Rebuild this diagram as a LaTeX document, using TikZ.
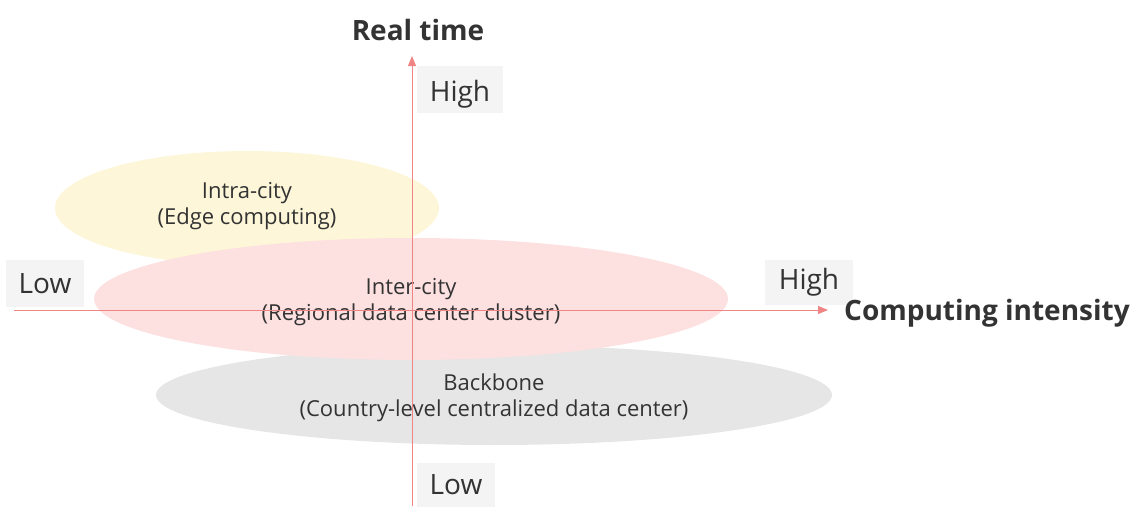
\documentclass[tikz,border=0pt]{standalone}
\usepackage{fontspec}
\setmainfont{Open Sans}
\usetikzlibrary{arrows.meta}
\definecolor{axisred}{HTML}{F08585}
\definecolor{txt}{HTML}{333333}
\definecolor{boxgray}{HTML}{F4F4F4}
\definecolor{yel}{HTML}{FDF6D8}
\definecolor{pnk}{HTML}{FDE0E0}
\definecolor{gry}{HTML}{E6E6E6}
\begin{document}
\begin{tikzpicture}[x=1pt,y=-1pt,
  axis/.style={draw=axisred,line width=1pt,-{Triangle[length=10pt,width=8pt]}},
  lvl/.style={fill=boxgray,text=txt,font=\fontsize{28}{32}\selectfont,inner sep=0pt},
  title/.style={text=txt,font=\fontsize{28}{32}\selectfont\bfseries,inner sep=0pt},
  zone/.style={text=txt,font=\fontsize{22}{26}\selectfont,align=center,inner sep=0pt}]
\useasboundingbox (0,0) rectangle (1137,506);
\fill[yel] (247,208) ellipse [x radius=192,y radius=57];
\fill[gry] (494,395) ellipse [x radius=338,y radius=50];
\fill[pnk] (411,299) ellipse [x radius=317,y radius=61];
\node[zone] (intra) at (247,206) {Intra-city\\(Edge computing)};
\node[zone] (inter) at (411,302) {Inter-city\\(Regional data center cluster)};
\node[zone] (back) at (494,398) {Backbone\\(Country-level centralized data center)};
\coordinate (vb) at (412,506);
\coordinate (vt) at (412,56);
\coordinate (hl) at (14,310);
\coordinate (hr) at (828,310);
\draw[axis] (vb) -- (vt);
\draw[axis] (hl) -- (hr);
\node[lvl,minimum width=86pt,minimum height=47pt,text depth=0pt] (vh) at (460,89.5) {\raisebox{-3pt}{High}};
\node[lvl,minimum width=78pt,minimum height=44pt] (vl) at (456,485) {\raisebox{-3pt}{Low}};
\node[lvl,minimum width=78pt,minimum height=47pt] (hlo) at (45,283.5) {\raisebox{-3pt}{Low}};
\node[lvl,minimum width=88pt,minimum height=45pt] (hh) at (809,282.5) {\raisebox{-3pt}{High}};
\node[title] (rt) at (418,30) {Real time};
\node[title,anchor=west] (ci) at (844,313) {Computing intensity};
\end{tikzpicture}
\end{document}
